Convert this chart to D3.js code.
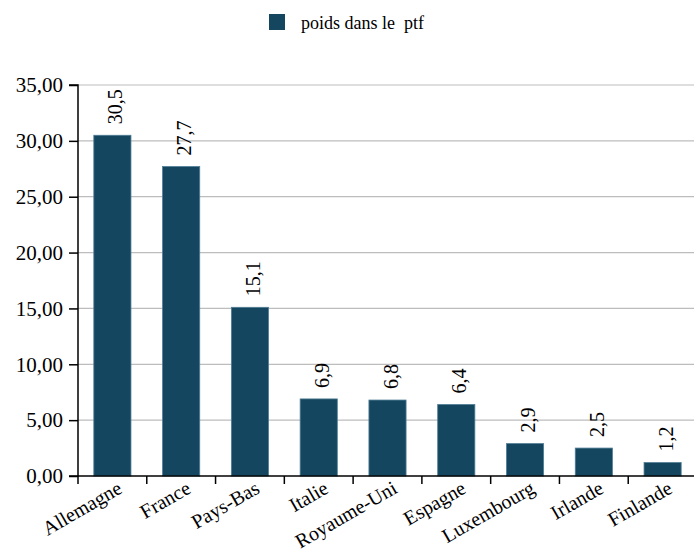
<!DOCTYPE html>
<html>
<head>
<meta charset="utf-8">
<script src="https://cdn.jsdelivr.net/npm/d3@7"></script>
</head>
<body style="margin:0;background:#fff">
<svg id="chart" width="694" height="553" style="display:block"></svg>
<script>
const categories = ["Allemagne", "France", "Pays-Bas", "Italie", "Royaume-Uni", "Espagne", "Luxembourg", "Irlande", "Finlande"];
const values = [30.5, 27.7, 15.1, 6.9, 6.8, 6.4, 2.9, 2.5, 1.2];
const yTicks = [0, 5, 10, 15, 20, 25, 30, 35];
const seriesName = "poids dans le  ptf";

(function () {
const FONT = "Liberation Serif";
const svg = d3.select("#chart");
const plotLeft = 78, plotRight = 697, plotTop = 85, plotBottom = 476;
const barColor = "#154660";

const fmt2 = v => d3.format(".2f")(v).replace(".", ",");
const fmt1 = v => d3.format(".1f")(v).replace(".", ",");

const x = d3.scaleBand().domain(categories).range([plotLeft, plotRight]).paddingInner(0.46).paddingOuter(0.23);
const y = d3.scaleLinear().domain([0, 35]).range([plotBottom, plotTop]);

// gridlines
svg.append("g").selectAll("line").data(yTicks.filter(d => d > 0)).join("line")
  .attr("x1", plotLeft).attr("x2", 694)
  .attr("y1", d => y(d)).attr("y2", d => y(d))
  .attr("stroke", "#bdbdbd").attr("stroke-width", 1.2);

// bars
svg.append("g").selectAll("rect").data(values).join("rect")
  .attr("x", (d, i) => x(categories[i]))
  .attr("width", x.bandwidth())
  .attr("y", d => y(d))
  .attr("height", d => y(0) - y(d))
  .attr("fill", barColor)
  .attr("stroke", "#4f7d94").attr("stroke-width", 0.8);

// value labels, rotated
svg.append("g").selectAll("text").data(values).join("text")
  .attr("transform", (d, i) => `translate(${x(categories[i]) + x.bandwidth() / 2 + 10},${y(d) - 11}) rotate(-90)`)
  .attr("text-anchor", "start")
  .attr("font-family", FONT)
  .attr("font-size", 20)
  .attr("fill", "#000")
  .text(d => fmt1(d));

// y axis
const yAxis = d3.axisLeft(y).tickValues(yTicks).tickFormat(fmt2).tickSize(9).tickPadding(6);
const gy = svg.append("g").attr("transform", `translate(${plotLeft},0)`).call(yAxis);
gy.select(".domain").attr("stroke", "#000").attr("stroke-width", 1.5).attr("d", `M-9,${plotTop}H0V${plotBottom}H-9`);
gy.selectAll(".tick line").attr("stroke", "#000").attr("stroke-width", 1.5);
gy.selectAll(".tick text").attr("font-family", FONT).attr("font-size", 21).attr("fill", "#000");

// x axis line and boundary ticks
const gx = svg.append("g");
gx.append("line").attr("x1", plotLeft).attr("x2", 694).attr("y1", plotBottom).attr("y2", plotBottom)
  .attr("stroke", "#000").attr("stroke-width", 1.5);
const step = x.step();
gx.selectAll("line.tk").data(categories).join("line").attr("class", "tk")
  .attr("x1", (d, i) => plotLeft + i * step).attr("x2", (d, i) => plotLeft + i * step)
  .attr("y1", plotBottom).attr("y2", plotBottom + 8)
  .attr("stroke", "#000").attr("stroke-width", 1.5);
gx.selectAll("text").data(categories).join("text")
  .attr("transform", d => `translate(${x(d) + x.bandwidth() / 2 + 11},${plotBottom + 16}) rotate(-30)`)
  .attr("text-anchor", "end")
  .attr("font-family", FONT)
  .attr("font-size", 20)
  .attr("fill", "#000")
  .text(d => d);

// legend
const lg = svg.append("g");
lg.append("rect").attr("x", 269).attr("y", 14).attr("width", 16).attr("height", 16).attr("fill", barColor);
lg.append("text").attr("x", 301).attr("y", 29).attr("font-family", FONT).attr("font-size", 18).attr("fill", "#000")
  .attr("xml:space", "preserve").style("white-space", "pre").text(seriesName);
})();
</script>
</body>
</html>
